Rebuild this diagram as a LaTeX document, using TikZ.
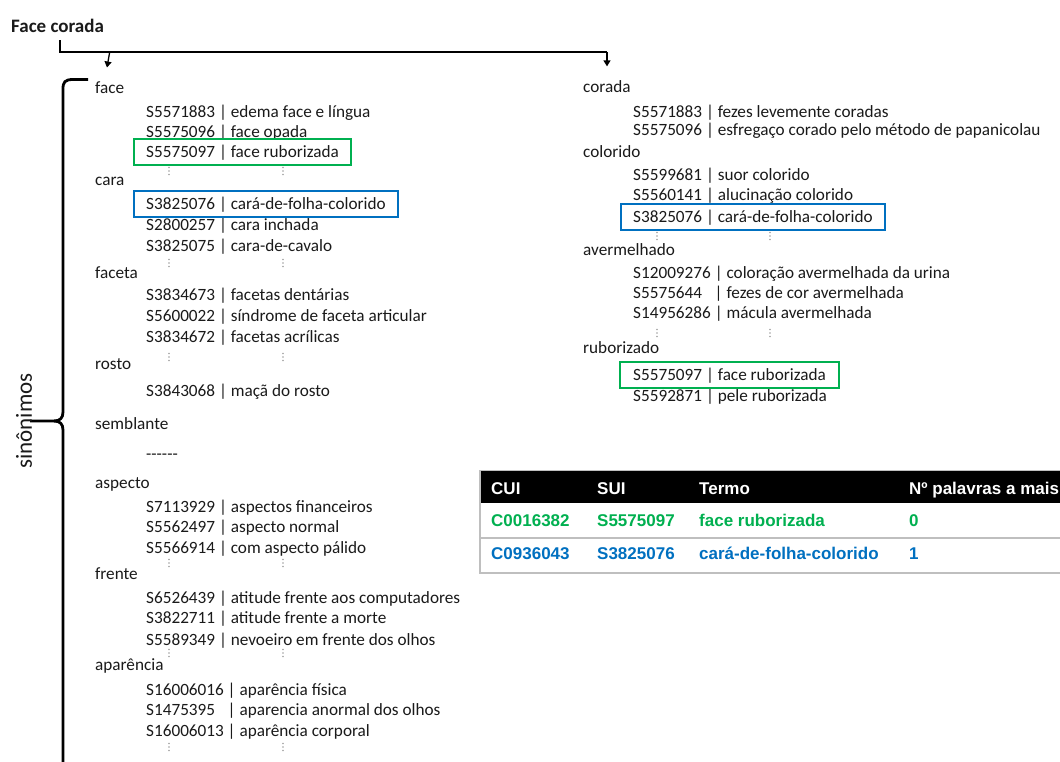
\documentclass[tikz,border=0pt]{standalone}
\usepackage{fontspec}
\setmainfont{Carlito}
\newfontfamily\tabfont{Liberation Sans}
\usetikzlibrary{arrows.meta,fit}
\definecolor{gbox}{HTML}{00B050}
\definecolor{bbox}{HTML}{0070C0}
\definecolor{txt}{HTML}{1A1A1A}
\definecolor{dotc}{HTML}{A0A0A0}
\definecolor{tabgrid}{HTML}{BFBFBF}
\begin{document}
\begin{tikzpicture}[x=1pt,y=-1pt,
  lab/.style={anchor=base west,inner sep=0pt,font=\fontsize{17.2}{20}\selectfont,text=txt},
  ent/.style={lab,text height=12.5pt,text depth=1.5pt},
  ttl/.style={anchor=base west,inner sep=0pt,font=\fontsize{19}{21}\selectfont\bfseries,text=txt},
  conn/.style={line width=2.4pt,line cap=butt,line join=miter},
  arr/.style={line width=1.3pt,-{Triangle[width=7pt,length=6pt]}},
  bracestyle/.style={line width=2.8pt,line join=round},
  gframe/.style={draw=gbox,line width=2.2pt,inner xsep=12pt,inner ysep=6pt},
  bframe/.style={draw=bbox,line width=2.2pt,inner xsep=12pt,inner ysep=6pt},
  vd/.pic={\foreach \d in {-3.5,0,3.5} \fill[dotc] (0,\d) circle (0.8);},
  th/.style={anchor=base west,inner sep=0pt,font=\tabfont\bfseries\fontsize{17}{20}\selectfont,text=white},
  tg/.style={th,text=gbox},
  tb/.style={th,text=bbox},
  side/.style={inner sep=0pt,font=\fontsize{23}{25}\selectfont,text=txt,rotate=90}
]
\useasboundingbox (0,0) rectangle (1060,761);
\fill[white] (0,0) rectangle (1060,761);

% title and connectors
\node[ttl] (title) at (11,32) {Face corada};
\coordinate (j0) at (60,40);
\coordinate (j1) at (60,52);
\coordinate (j2) at (607,52);

% left column
\node[lab] (face) at (95,93.5) {face};
\node[ent] (l1) at (146,117.5) {S5571883 | edema face e língua};
\node[ent] (l2) at (146,137.5) {S5575096 | face opada};
\node[ent] (l3) at (146,157.5) {S5575097 | face ruborizada};
\pic at (169,171) {vd}; \pic at (283,171) {vd};
\node[lab] (cara) at (95,185.5) {cara};
\node[ent] (l4) at (146,209.5) {S3825076 | cará-de-folha-colorido};
\node[ent] (l5) at (146,230) {S2800257 | cara inchada};
\node[ent] (l6) at (146,251.5) {S3825075 | cara-de-cavalo};
\pic at (169,263) {vd}; \pic at (283,263) {vd};
\node[lab] (faceta) at (95,278.5) {faceta};
\node[ent] (l7) at (146,300.5) {S3834673 | facetas dentárias};
\node[ent] (l8) at (146,321.5) {S5600022 | síndrome de faceta articular};
\node[ent] (l9) at (146,342.5) {S3834672 | facetas acrílicas};
\pic at (169,357) {vd}; \pic at (283,357) {vd};
\node[lab] (rosto) at (95,369.5) {rosto};
\node[ent] (l10) at (146,396.5) {S3843068 | maçã do rosto};
\node[lab] (semb) at (95,429.5) {semblante};
\node[lab] (dash) at (146,459.5) {-{}-{}-{}-{}-{}-};
\node[lab] (aspecto) at (95,488.5) {aspecto};
\node[ent] (l11) at (146,512.5) {S7113929 | aspectos financeiros};
\node[ent] (l12) at (146,532.5) {S5562497 | aspecto normal};
\node[ent] (l13) at (146,553.5) {S5566914 | com aspecto pálido};
\pic at (169,563) {vd}; \pic at (283,563) {vd};
\node[lab] (frente) at (95,579.5) {frente};
\node[ent] (l14) at (146,603.5) {S6526439 | atitude frente aos computadores};
\node[ent] (l15) at (146,623.5) {S3822711 | atitude frente a morte};
\node[ent] (l16) at (146,645.5) {S5589349 | nevoeiro em frente dos olhos};
\pic at (169,653) {vd}; \pic at (283,653) {vd};
\node[lab] (apar) at (95,670.5) {aparência};
\node[ent] (l17) at (146,695.5) {S16006016 | aparência física};
\node[ent] (l18) at (146,715.5) {S1475395\hphantom{0} | aparencia anormal dos olhos};
\node[ent] (l19) at (146,736.5) {S16006013 | aparência corporal};
\pic at (169,747) {vd}; \pic at (283,747) {vd};

% right column
\node[lab] (corada) at (583,92.5) {corada};
\node[ent] (r1) at (633,117.5) {S5571883 | fezes levemente coradas};
\node[ent] (r2) at (633,135) {S5575096 | esfregaço corado pelo método de papanicolau};
\node[lab] (colorido) at (583,157.5) {colorido};
\node[ent] (r3) at (633,180.5) {S5599681 | suor colorido};
\node[ent] (r4) at (633,200.5) {S5560141 | alucinação colorido};
\node[ent] (r5) at (633,222.5) {S3825076 | cará-de-folha-colorido};
\pic at (657,236) {vd}; \pic at (770,236) {vd};
\node[lab] (averm) at (583,255.5) {avermelhado};
\node[ent] (r6) at (633,278.5) {S12009276 | coloração avermelhada da urina};
\node[ent] (r7) at (633,298.5) {S5575644\hphantom{0} | fezes de cor avermelhada};
\node[ent] (r8) at (633,318.5) {S14956286 | mácula avermelhada};
\pic at (657,333) {vd}; \pic at (770,333) {vd};
\node[lab] (rubor) at (583,353.5) {ruborizado};
\node[ent] (r9) at (633,380.5) {S5575097 | face ruborizada};
\node[ent] (r10) at (633,401.5) {S5592871 | pele ruborizada};

% highlight frames
\node[gframe,fit=(l3)] (gl) {};
\node[bframe,fit=(l4)] (bl) {};
\node[bframe,fit=(r5)] (br) {};
\node[gframe,fit=(r9),inner xsep=13pt] (gr) {};

% title connector and arrows
\draw[conn] (j0) -- (j1) -- (j2);
\draw[arr] (face.north |- j1) -- ([yshift=14pt]face.north -| 107,0);
\draw[arr] (j2) -- ([yshift=14pt]corada.north -| j2);

% brace
\draw[bracestyle] (88,79.5) -- (73,79.5) .. controls (65,79.5) and (63,82) .. (63,89) -- (63,412) .. controls (63,418) and (60,421) .. (54,421) -- (30,421);
\draw[bracestyle] (54,421) .. controls (60,421) and (63,424) .. (63,430) -- (63,770);
\node[side] (sin) at (24,421) {sinônimos};

% table
\fill[black] (480,471) rectangle (1065,503);
\draw[tabgrid,line width=1pt] (480,470) -- (1065,470);
\draw[tabgrid,line width=1.2pt] (480,470) -- (480,573) -- (1065,573);
\draw[tabgrid,line width=1.2pt] (480,538) -- (1065,538);
\node[th] (h1) at (491,494) {CUI};
\node[th] (h2) at (597,494) {SUI};
\node[th] (h3) at (699,494) {Termo};
\node[th] (h4) at (909,494) {Nº palavras a mais};
\node[tg] (a1) at (491,526) {C0016382};
\node[tg] (a2) at (597,526) {S5575097};
\node[tg] (a3) at (699,526) {face ruborizada};
\node[tg] (a4) at (909,526) {0};
\node[tb] (b1) at (491,559) {C0936043};
\node[tb] (b2) at (597,559) {S3825076};
\node[tb] (b3) at (699,559) {cará-de-folha-colorido};
\node[tb] (b4) at (909,559) {1};
\end{tikzpicture}
\end{document}
